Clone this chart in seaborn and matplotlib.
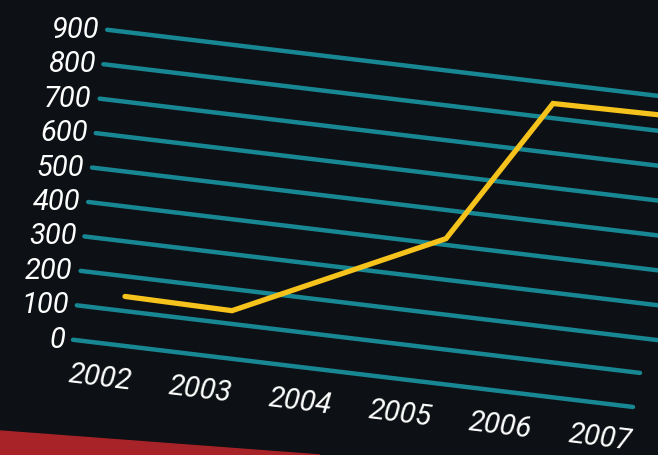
import matplotlib
matplotlib.use("Agg")
import matplotlib.pyplot as plt
from matplotlib.transforms import Affine2D
from matplotlib.patches import Polygon
import seaborn as sns
import numpy as np

sns.set_style("dark")

####### data

years = [2002, 2003, 2004, 2005, 2006, 2007]
values = [142, 138, 278, 418, 842, 846]
grid_values = [0, 100, 200, 300, 400, 500, 600, 700, 800, 900]
year_labels = ["2002", "2003", "2004", "2005", "2006", "2007"]

bg = "#0d1014"
teal = "#188794"
yellow = "#f6c21c"

fig = plt.figure(figsize=(6.58, 4.56), dpi=100)
fig.patch.set_facecolor(bg)
ax = fig.add_axes([0, 0, 1, 1])
ax.axis("off")

# the board is drawn in a slanted view: shear everything downwards to the right
px = 107.0  # pixels per year
xlim = (2002 - 125 / px, 2002 + (658 - 125) / px)
ylim = (-355.3, 951.3)
tr = ax.transData + Affine2D().skew(0, np.arctan(-0.12))

def to_year(xpix):
    return 2002 + (xpix - 125) / px

font = dict(color="white", fontsize=21, fontstyle="italic", family="Roboto")

# gridlines, hand drawn so they start a bit further right as they go up
for v in grid_values:
    left = to_year(73 + 0.038 * v)
    right = to_year(633 + 0.07 * v) if v < 200 else to_year(700)
    ax.plot([left, right], [v, v], color=teal, lw=3.2, solid_capstyle="round",
            transform=tr, zorder=1)
    ax.text(left - 8 / px, v, str(v), ha="right", va="center", transform=tr, **font)

sns.lineplot(x=years, y=values, ax=ax, color=yellow, lw=3.8,
             solid_joinstyle="miter", solid_capstyle="round", transform=tr, zorder=3)
ax.set_xlim(*xlim)
ax.set_ylim(*ylim)

for i, lab in enumerate(year_labels):
    ax.text(to_year(100 + 100 * i), -98, lab, ha="center", va="center",
            rotation=-7, rotation_mode="anchor", transform=tr, **font)

# red edge of the board at the bottom left
fig.add_artist(Polygon([[0, 0], [0, 24 / 456], [320 / 658, 0]], closed=True,
                       transform=fig.transFigure, color="#a82327", zorder=0))

fig.savefig("out.png", dpi=100, facecolor=bg)
